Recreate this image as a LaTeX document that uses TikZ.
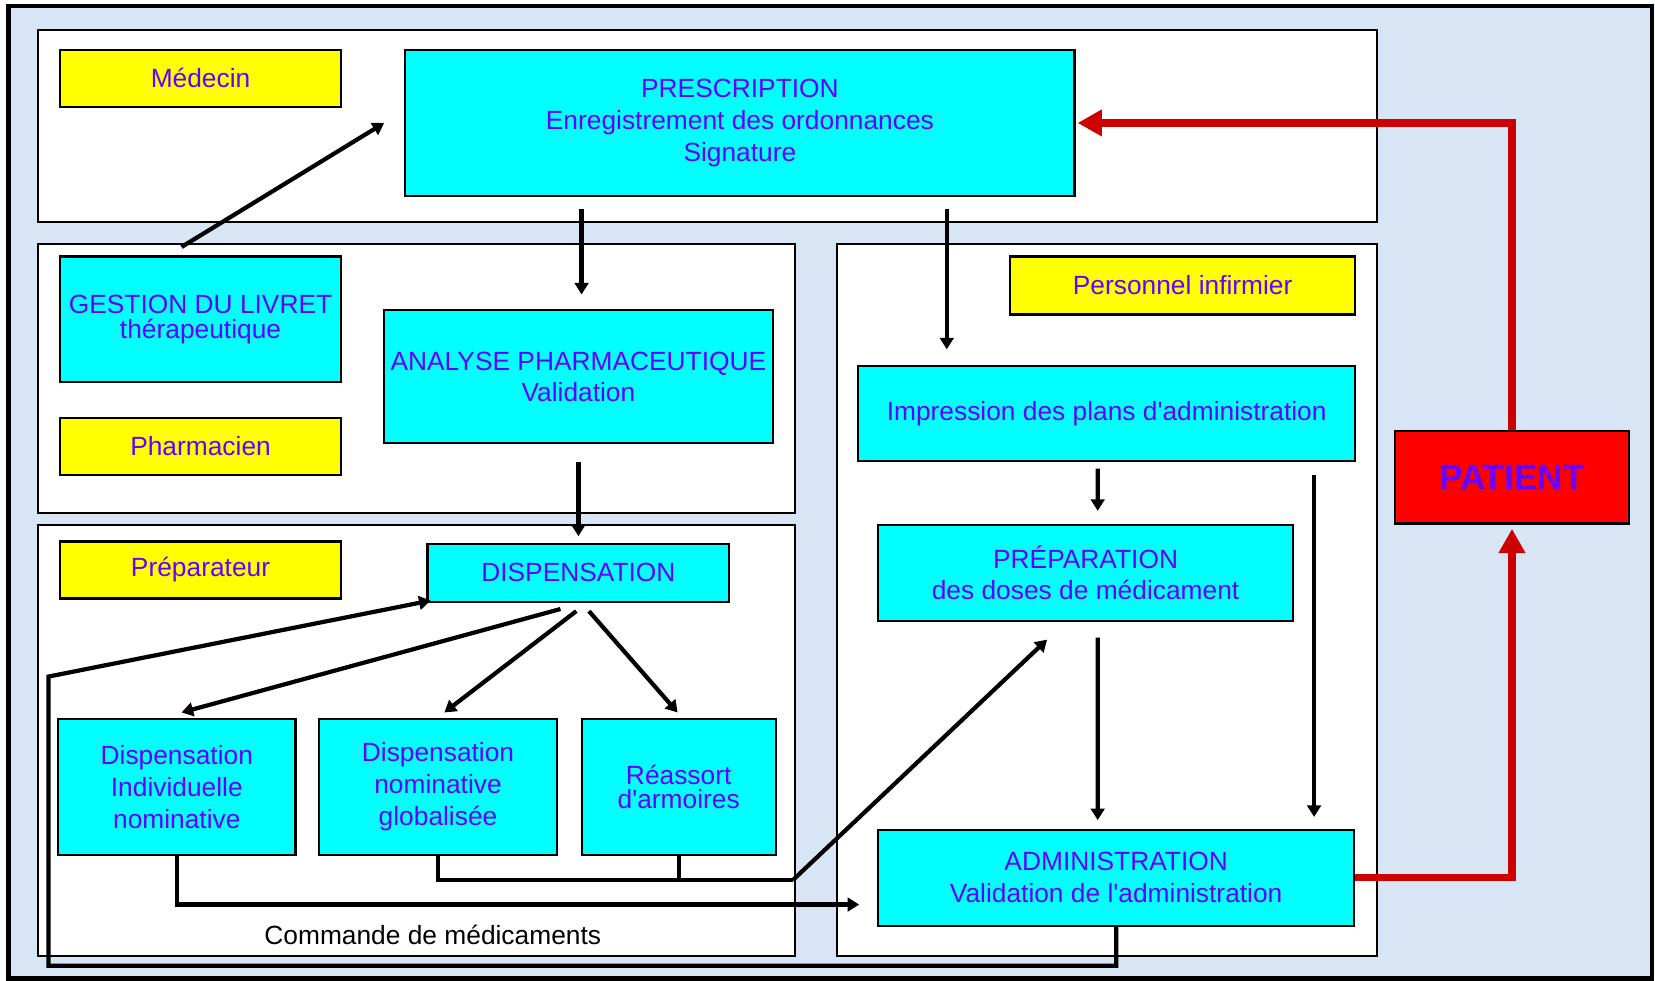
\documentclass[tikz,border=0pt]{standalone}
\usepackage{fontspec}
\setmainfont{Liberation Sans}[Ligatures=TeXOff]
\usetikzlibrary{arrows.meta}
\usetikzlibrary{calc}
\usetikzlibrary{positioning}
\definecolor{mtext}{RGB}{102, 0, 255}
\definecolor{mcyan}{RGB}{0, 255, 255}
\definecolor{myellow}{RGB}{255, 255, 0}
\definecolor{mred}{RGB}{255, 0, 0}
\definecolor{mdred}{RGB}{204, 0, 0}
\definecolor{mback}{RGB}{216, 229, 244}
\tikzset{box/.style = {draw, line width = 0.4mm, fill = mcyan, text = mtext,
                       align = center, inner sep = 1pt,
                       font = \fontsize{14.2}{17.1}\selectfont}}
\tikzset{role/.style = {box, fill = myellow}}
\tikzset{boxsize/.style 2 args = {minimum width = #1*0.2mm, minimum height = #2*0.2mm}}
\tikzset{panel/.style = {draw, line width = 0.4mm, fill = white}}
\tikzset{lien/.style = {line width = 0.8mm}}
\tikzset{arr/.style = {lien, -{Triangle[length = 2.2mm, width = 2.6mm]}}}
\tikzset{rarr/.style = {line width = 1.4mm, draw = mdred,
                        -{Triangle[length = 4.6mm, width = 4.8mm]}}}

\begin{document}
\begin{tikzpicture}[x = 0.2mm, y = -0.2mm]
  \useasboundingbox (0, 0) rectangle (1568, 929);
  \draw [line width = 0.8mm, fill = mback] (8, 6) rectangle (1565, 927);
  % zones
  \draw [panel] (36, 28) rectangle (1305, 210);
  \draw [panel] (36, 231) rectangle (753, 486);
  \draw [panel] (36, 497) rectangle (753, 906);
  \draw [panel] (793, 231) rectangle (1305, 906);
  % acteurs
  \node [role, boxsize = {266}{54}] (medecin) at (190, 74) {Médecin};
  \node [role, boxsize = {266}{54}] (pharma) at (190, 423) {Pharmacien};
  \node [role, boxsize = {266}{54}] (prepa) at (190, 540) {Préparateur};
  \node [role, boxsize = {327}{55}] (infirm) at (1120.5, 270.5) {Personnel infirmier};
  % etapes
  \node [box, boxsize = {634}{139}] (presc) at (701, 116.5)
    {PRESCRIPTION\\Enregistrement des ordonnances\\Signature};
  \node [box, boxsize = {266}{119}] (gestion) at (190, 302.5)
    {GESTION DU LIVRET\\[-1.2mm]thérapeutique};
  \node [box, boxsize = {368}{126}] (analyse) at (548, 357)
    {ANALYSE PHARMACEUTIQUE\\Validation};
  \node [box, boxsize = {286}{55}] (disp) at (548, 542.5) {DISPENSATION};
  \node [box, boxsize = {225}{129}] (din) at (167.5, 745.5)
    {Dispensation\\Individuelle\\nominative};
  \node [box, boxsize = {226}{129}] (dng) at (415, 745.5)
    {Dispensation\\nominative\\globalisée};
  \node [box, boxsize = {184}{129}] (reas) at (643, 745.5)
    {Réassort\\[-1.4mm]d'armoires};
  \node [box, boxsize = {471}{90}] (impr) at (1048.5, 392)
    {Impression des plans d'administration};
  \node [box, boxsize = {393}{91}] (prep) at (1028.5, 542.5)
    {PRÉPARATION\\des doses de médicament};
  \node [box, boxsize = {451}{91}] (admin) at (1057.5, 831.5)
    {ADMINISTRATION\\Validation de l'administration};
  \node [box, boxsize = {221}{88}, fill = mred,
         font = \fontsize{19}{22}\selectfont\bfseries] (patient) at (1432.5, 452) {PATIENT};
  \node [font = \fontsize{14.2}{17.1}\selectfont] (cmdtxt) at (410, 886)
    {Commande de médicaments};
  % circuit
  \coordinate (retour) at (46, 641);
  \coordinate (jonc) at (751, 834);
  \draw [arr] ([shift = {(-18, -8)}]gestion.north) -- ([shift = {(-19, 0)}]presc.west);
  \draw [arr] ([shift = {(-150, 11)}]presc.south) -- ([shift = {(3, -14)}]analyse.north);
  \draw [arr] ([shift = {(196, 11)}]presc.south) -- ([shift = {(-151.5, -15)}]impr.north);
  \draw [arr] ([shift = {(0, 17)}]analyse.south) -- ([shift = {(0, -6)}]disp.north);
  \draw [arr] ([shift = {(-17, 6)}]disp.south) -- ([shift = {(4.5, -5)}]din.north);
  \draw [arr] ([shift = {(-2, 8)}]disp.south) -- ([shift = {(6, -5)}]dng.north);
  \draw [arr] ([shift = {(10, 8)}]disp.south) -- ([shift = {(-1, -5)}]reas.north);
  \draw [arr] (admin.south) -- ++(0, 37) -| (retour)
    -- ([shift = {(4, -2)}]disp.south west);
  \draw [arr] (din.south) |- ([shift = {(-17, 25.5)}]admin.west);
  \draw [lien] (dng.south) |- (jonc);
  \draw [lien] (reas.south) -- (reas.south |- jonc);
  \draw [arr] (jonc) -- ([shift = {(-36.5, 17)}]prep.south);
  \draw [arr] ([shift = {(-8.5, 6)}]impr.south) -- ([shift = {(11.5, -12)}]prep.north);
  \draw [arr] ([shift = {(11.5, 15)}]prep.south) -- ([shift = {(-17.5, -8)}]admin.north);
  \draw [arr] ([shift = {(-40, 12)}]impr.south east) -- ([shift = {(-39, -11)}]admin.north east);
  % patient
  \draw [rarr] (admin.east) -| ([shift = {(0, 4)}]patient.south);
  \draw [rarr] (patient.north) |- ([shift = {(2, 0)}]presc.east);
\end{tikzpicture}
\end{document}
